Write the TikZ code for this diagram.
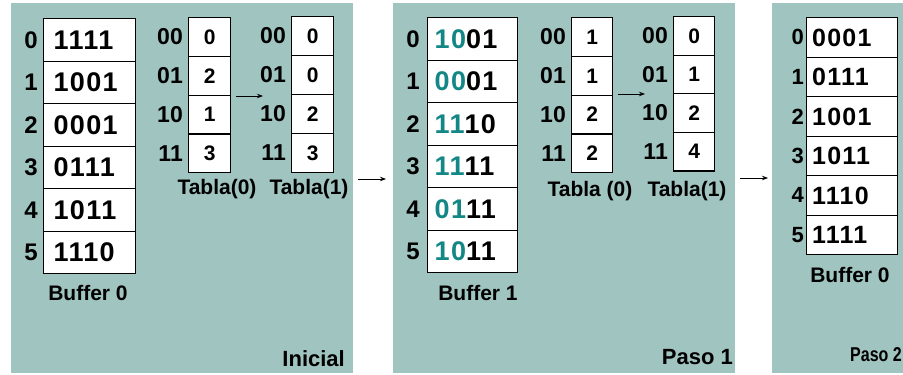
\documentclass[tikz,border=0pt]{standalone}
\usepackage{fontspec}
\setmainfont{Liberation Sans}
\newfontfamily\digfont[LetterSpace=5]{Liberation Sans}
\usetikzlibrary{arrows.meta,positioning}
\definecolor{bg}{HTML}{A0C4C0}
\definecolor{tealdig}{HTML}{138785}
\newcommand{\tl}[2]{\textcolor{tealdig}{#1}#2}
\begin{document}
\begin{tikzpicture}[x=1pt,y=-1pt,
  panel/.style={fill=bg},
  bufcell/.style={draw, fill=white, line width=1.3pt, anchor=north west,
    minimum width=92pt, minimum height=42.5pt, inner sep=0pt,
    text width=78pt, align=left, font=\digfont\fontsize{27}{27}\bfseries},
  bufcellb/.style={bufcell, minimum height=39.5pt, text width=80pt, font=\digfont\fontsize{25}{25}\bfseries},
  tabcell/.style={draw, fill=white, line width=1.3pt, anchor=north west,
    minimum width=42pt, minimum height=38.75pt, inner sep=0pt,
    font=\fontsize{21}{21}\selectfont\bfseries},
  lab/.style={inner sep=0pt, font=\fontsize{24}{24}\selectfont\bfseries},
  tlab/.style={inner sep=0pt, font=\fontsize{23}{23}\selectfont\bfseries},
  captxt/.style={inner sep=0pt, font=\fontsize{21}{21}\selectfont\bfseries},
  steptitle/.style={inner sep=0pt, font=\fontsize{22}{22}\selectfont\bfseries},
  arr/.style={line width=0.9pt, -{Stealth[length=6pt,width=4.5pt]}}
]
\useasboundingbox (0,0) rectangle (903,375);
\begin{scope}
\clip (0,0) rectangle (903,375);
\fill[white] (0,0) rectangle (903,375);
\fill[panel] (11,3) rectangle (353,373);
\fill[panel] (393,3) rectangle (735,373);
\fill[panel] (772,3) rectangle (903,373);

% ---- Panel 1: Inicial
\foreach \t [count=\i from 0] in {1111,1001,0001,0111,1011,1110}
  \node[bufcell] (pa-\i) at (43,{18+42.5*\i}) {\hspace*{3pt}\t};
\foreach \i in {0,...,5}
  \node[lab, left=5pt of pa-\i.west] (pal-\i) {\i};
\node[captxt] (pacap) at (88,293) {Buffer 0};

\foreach \t [count=\i from 0] in {0,2,1,3}
  \node[tabcell] (pat-\i) at (188,{17+38.75*\i}) {\t};
\foreach \t [count=\i from 0] in {00,01,10,11}
  \node[tlab, left=5pt of pat-\i.west] (patl-\i) {\t};
\foreach \t [count=\i from 0] in {0,0,2,3}
  \node[tabcell] (pau-\i) at (291,{16+39*\i}) {\t};
\foreach \t [count=\i from 0] in {00,01,10,11}
  \node[tlab, left=5pt of pau-\i.west] (paul-\i) {\t};
\node[captxt] (patcap) at (217,189) {Tabla(0)};
\node[captxt] (paucap) at (309,189) {Tabla(1)};
\coordinate (pa-as) at (236,96);
\coordinate (pa-ae) at (263,96);
\draw[arr] (pa-as) -- (pa-ae);
\node[steptitle, anchor=base east] (pastep) at (345,366) {Inicial};

\coordinate (m1s) at (358,179);
\coordinate (m1e) at (386,179);
\draw[arr] (m1s) -- (m1e);

% ---- Panel 2: Paso 1
\foreach \a/\b [count=\i from 0] in {10/01,00/01,11/10,11/11,01/11,10/11}
  \node[bufcell, minimum width=90pt] (pb-\i) at (427,{17+42.5*\i}) {\hspace*{1pt}\tl{\a}{\b}};
\foreach \i in {0,...,5}
  \node[lab, left=7pt of pb-\i.west] (pbl-\i) {\i};
\node[captxt] (pbcap) at (478,293) {Buffer 1};

\foreach \t [count=\i from 0] in {1,1,2,2}
  \node[tabcell, minimum width=41pt] (pbt-\i) at (571,{17+38.75*\i}) {\t};
\foreach \t [count=\i from 0] in {00,01,10,11}
  \node[tlab, left=5pt of pbt-\i.west] (pbtl-\i) {\t};
\foreach \t [count=\i from 0] in {0,1,2,4}
  \node[tabcell, minimum width=41pt] (pbu-\i) at (673,{16+38.5*\i}) {\t};
\foreach \t [count=\i from 0] in {00,01,10,11}
  \node[tlab, left=5pt of pbu-\i.west] (pbul-\i) {\t};
\node[captxt] (pbtcap) at (590,191) {Tabla (0)};
\node[captxt] (pbucap) at (687,191) {Tabla(1)};
\coordinate (pb-as) at (618,94);
\coordinate (pb-ae) at (645,94);
\draw[arr] (pb-as) -- (pb-ae);
\node[steptitle, anchor=base east] (pbstep) at (733,364) {Paso 1};

\coordinate (m2s) at (740,178);
\coordinate (m2e) at (768,178);
\draw[arr] (m2s) -- (m2e);

% ---- Panel 3: Paso 2
\foreach \t [count=\i from 0] in {0001,0111,1001,1011,1110,1111}
  \node[bufcellb, minimum width=91pt] (pc-\i) at (806,{17+39.5*\i}) {\t};
\foreach \i in {0,...,5}
  \node[lab, font=\fontsize{22}{22}\selectfont\bfseries, left=2pt of pc-\i.west] (pcl-\i) {\i};
\node[captxt] (pccap) at (850,275) {Buffer 0};
\node[inner sep=0pt, anchor=base east, font=\fontsize{20}{20}\selectfont\bfseries] (pcstep) at (902,361) {\scalebox{0.8}[1]{Paso 2}};
\end{scope}
\end{tikzpicture}
\end{document}
